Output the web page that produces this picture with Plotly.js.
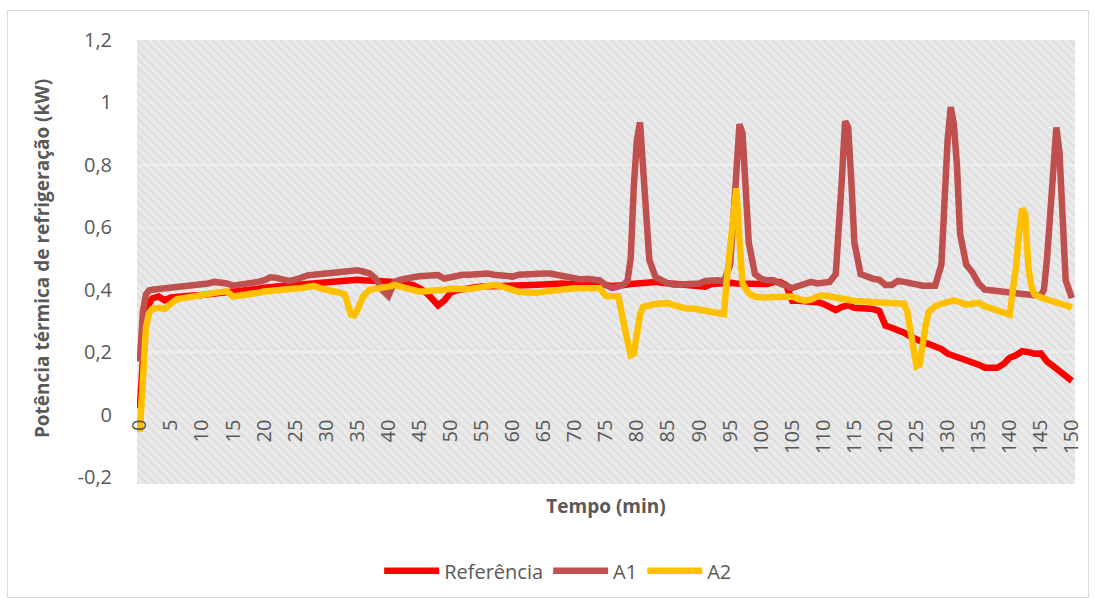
<!DOCTYPE html>
<html>
<head>
<meta charset="utf-8">
<script src="https://cdn.plot.ly/plotly-3.0.1.min.js"></script>
<style>
  body { margin: 0; background: #ffffff; }
  #wrap { position: relative; width: 1095px; height: 602px; overflow: hidden; }
  #hatch { position: absolute; left: 137px; top: 40px; width: 938px; height: 444px;
           background: repeating-linear-gradient(45deg, #e0e0e0 0px, #e0e0e0 2.5px, #eaeaea 2.5px, #eaeaea 6px); }
  #frame { position: absolute; left: 7px; top: 10px; width: 1082px; height: 588px;
           border: 1px solid #d9d9d9; box-sizing: border-box; }
  #chart { position: absolute; left: 0; top: 0; width: 1095px; height: 602px; }
</style>
</head>
<body>
<div id="wrap">
  <div id="frame"></div>
  <div id="hatch"></div>
  <div id="chart"></div>
</div>
<script>
// ---------- DATA ----------
const seriesNames = ['Referência', 'A1', 'A2'];

const xTickVals = [0,5,10,15,20,25,30,35,40,45,50,55,60,65,70,75,80,85,90,95,100,105,110,115,120,125,130,135,140,145,150];
const yTickVals = [-0.2, 0, 0.2, 0.4, 0.6, 0.8, 1, 1.2];
const yTickText = ['-0,2', '0', '0,2', '0,4', '0,6', '0,8', '1', '1,2'];

// Referência
const tRef = [0,0.5,1,1.5,
  2,3,4,5,6,7,8,9,10,
  11,12,13,14,15,16,17,18,19,20,
  21,22,23,24,25,26,27,28,29,30,
  31,32,33,34,35,36,37,38,39,40,
  41,42,43,44,45,46,47,48,49,50,
  51,52,53,54,55,56,57,58,59,60,
  61,62,63,64,65,66,67,68,69,70,
  71,72,73,74,75,76,77,78,79,80,
  81,82,83,84,85,86,87,88,89,90,
  91,92,93,94,95,96,97,98,99,100,
  101,102,103,104,105,106,107,108,109,110,
  111,112,113,114,115,116,117,118,119,120,
  121,122,123,124,125,126,127,128,129,130,
  131,132,133,134,135,136,137,138,139,140,
  141,142,143,144,145,146,147,148,149,150];
const ref = [0.02,0.2,0.33,0.355,
  0.372,0.378,0.366,0.375,0.378,0.378,0.38,0.382,0.383,
  0.385,0.388,0.39,0.392,0.39,0.392,0.397,0.4,0.403,0.406,
  0.41,0.41,0.412,0.414,0.415,0.417,0.418,0.42,0.422,0.425,
  0.425,0.428,0.43,0.432,0.432,0.43,0.43,0.43,0.428,0.43,
  0.425,0.422,0.42,0.415,0.405,0.392,0.372,0.35,0.365,0.39,
  0.398,0.402,0.408,0.408,0.41,0.41,0.41,0.41,0.412,0.413,
  0.412,0.415,0.415,0.416,0.418,0.42,0.42,0.42,0.418,0.42,
  0.42,0.42,0.42,0.42,0.415,0.412,0.412,0.415,0.418,0.42,
  0.42,0.425,0.425,0.422,0.42,0.418,0.418,0.418,0.415,0.41,
  0.41,0.418,0.42,0.42,0.422,0.42,0.42,0.422,0.42,0.418,
  0.418,0.425,0.425,0.415,0.365,0.365,0.365,0.36,0.36,0.355,
  0.345,0.335,0.345,0.35,0.342,0.342,0.338,0.338,0.332,0.285,
  0.278,0.272,0.262,0.25,0.238,0.232,0.226,0.218,0.21,0.195,
  0.188,0.184,0.178,0.172,0.16,0.15,0.15,0.15,0.162,0.182,
  0.19,0.203,0.2,0.195,0.196,0.17,0.155,0.138,0.122,0.108];

// A1
const tA1 = [0,0.5,1,1.5,
  2,3,4,5,6,7,8,9,10,
  11,12,13,14,15,16,17,18,19,20,
  21,22,23,24,25,26,27,28,29,30,
  31,32,33,34,35,36,37,38,39,40,
  41,42,43,44,45,46,47,48,49,50,
  51,52,53,54,55,56,57,58,59,60,
  61,62,63,64,65,66,67,68,69,70,
  71,72,73,74,75,76,77,78,
  78.5,79,79.5,80,80.5,81,81.5,82,
  83,84,85,86,87,88,89,90,91,92,93,94,95,
  95.5,96,96.5,97,97.5,98,
  99,100,101,102,103,104,105,106,107,108,109,110,111,112,
  112.5,113,113.5,114,114.5,115,
  116,117,118,119,120,121,122,123,124,125,126,127,128,129,
  129.5,130,130.5,131,131.5,132,
  133,134,135,136,137,138,139,140,141,142,143,144,145,
  145.5,146,146.5,147,147.5,148,148.5,
  149,150];
const a1 = [0.17,0.33,0.385,0.398,
  0.40,0.402,0.403,0.403,0.405,0.408,0.41,0.415,0.418,
  0.42,0.425,0.425,0.42,0.413,0.415,0.418,0.42,0.425,0.43,
  0.44,0.438,0.432,0.428,0.432,0.44,0.446,0.448,0.45,0.452,
  0.453,0.455,0.456,0.458,0.462,0.458,0.452,0.435,0.40,0.38,
  0.425,0.432,0.438,0.44,0.443,0.445,0.447,0.447,0.436,0.44,
  0.446,0.448,0.448,0.45,0.452,0.452,0.448,0.445,0.44,0.442,
  0.448,0.45,0.452,0.45,0.452,0.452,0.448,0.442,0.438,0.435,
  0.433,0.435,0.433,0.43,0.415,0.405,0.41,0.418,
  0.43,0.5,0.73,0.88,0.936,0.8,0.62,0.495,
  0.44,0.428,0.42,0.416,0.418,0.418,0.42,0.42,0.428,0.43,0.43,0.427,0.48,
  0.62,0.8,0.93,0.9,0.72,0.55,
  0.45,0.435,0.43,0.43,0.42,0.41,0.405,0.412,0.42,0.425,0.42,0.42,0.425,0.45,
  0.58,0.76,0.94,0.92,0.75,0.55,
  0.45,0.44,0.435,0.432,0.415,0.415,0.428,0.425,0.42,0.415,0.413,0.413,0.413,0.48,
  0.7,0.88,0.985,0.93,0.8,0.58,
  0.48,0.455,0.42,0.4,0.398,0.395,0.394,0.393,0.39,0.388,0.385,0.382,0.38,
  0.4,0.5,0.66,0.82,0.92,0.84,0.58,
  0.43,0.373];

// A2
const tA2 = [0,0.5,1,1.5,
  2,3,4,5,6,7,8,9,10,
  11,12,13,14,15,16,17,18,19,20,
  21,22,23,24,25,26,27,28,29,30,
  31,32,33,34,
  34.5,
  35,36,37,38,39,40,
  41,42,43,44,45,46,47,48,49,50,
  51,52,53,54,55,56,57,58,59,60,
  61,62,63,64,65,66,67,68,69,70,
  71,72,73,74,75,76,77,78,
  78.5,79,79.5,80,80.5,
  81,82,83,84,85,86,87,88,89,90,91,92,93,94,
  94.5,95,95.5,96,96.5,
  97,98,99,100,
  101,102,103,104,105,106,107,108,109,110,
  111,112,113,114,115,116,117,118,119,120,
  121,122,123,
  123.5,124,124.5,125,125.5,126,126.5,
  127,128,129,130,131,132,133,134,135,136,137,138,139,140,
  140.5,141,141.5,142,142.5,143,143.5,
  144,145,146,147,148,149,150];
const a2 = [-0.055,0.15,0.28,0.325,
  0.338,0.342,0.338,0.355,0.37,0.373,0.375,0.38,0.384,
  0.386,0.39,0.392,0.395,0.378,0.38,0.385,0.388,0.39,0.394,
  0.397,0.4,0.4,0.402,0.404,0.405,0.408,0.412,0.405,0.398,
  0.395,0.392,0.385,0.32,
  0.318,
  0.335,0.38,0.4,0.402,0.405,0.41,
  0.415,0.41,0.405,0.398,0.394,0.395,0.396,0.394,0.4,0.403,
  0.405,0.402,0.402,0.406,0.41,0.415,0.415,0.412,0.405,0.396,
  0.393,0.392,0.39,0.39,0.394,0.397,0.4,0.402,0.404,0.405,
  0.405,0.405,0.405,0.405,0.38,0.378,0.379,0.28,
  0.22,0.19,0.195,0.26,0.32,
  0.345,0.352,0.354,0.356,0.357,0.35,0.343,0.34,0.34,0.337,0.335,0.333,0.328,0.322,
  0.44,0.55,0.65,0.725,0.56,
  0.42,0.388,0.378,0.375,
  0.376,0.378,0.378,0.378,0.378,0.37,0.365,0.368,0.378,0.382,
  0.378,0.372,0.368,0.365,0.364,0.363,0.362,0.362,0.36,0.36,
  0.36,0.36,0.355,
  0.33,0.26,0.19,0.155,0.16,0.23,0.29,
  0.33,0.347,0.355,0.362,0.366,0.36,0.352,0.355,0.358,0.347,0.34,0.335,0.328,0.32,
  0.4,0.47,0.58,0.66,0.64,0.47,0.41,
  0.385,0.375,0.37,0.365,0.36,0.35,0.343];

[[tRef, ref, 'ref'], [tA1, a1, 'a1'], [tA2, a2, 'a2']].forEach(function (p) {
  if (p[0].length !== p[1].length) throw new Error('length mismatch ' + p[2] + ': ' + p[0].length + ' vs ' + p[1].length);
});

// ---------- CHART ----------
const colors = ['#FF0000', '#C0504D', '#FFC000'];
const xs = [tRef, tA1, tA2];
const ys = [ref, a1, a2];

const traces = seriesNames.map(function (name, i) {
  return {
    type: 'scatter', mode: 'lines', name: name,
    x: xs[i], y: ys[i],
    line: { color: colors[i], width: 6.5 },
    hoverinfo: 'skip'
  };
});

const layout = {
  width: 1095, height: 602,
  margin: { l: 137, r: 20, t: 40, b: 118 },
  paper_bgcolor: 'rgba(0,0,0,0)',
  plot_bgcolor: 'rgba(0,0,0,0)',
  font: { family: 'Open Sans, sans-serif', color: '#595959', size: 20 },
  showlegend: true,
  xaxis: {
    range: [-0.45, 150.5],
    tickmode: 'array', tickvals: xTickVals,
    tickangle: -90,
    anchor: 'free', position: 0.2 / 1.4,
    showgrid: false, zeroline: false, showline: false, ticks: '',
    tickfont: { size: 20, color: '#595959' },
    title: { text: 'Tempo (min)', font: { size: 19, weight: 'bold', color: '#595959' }, standoff: 46 },
    automargin: false
  },
  yaxis: {
    range: [-0.2, 1.2],
    tickmode: 'array', tickvals: yTickVals, ticktext: yTickText,
    showgrid: true, gridcolor: '#ededed', gridwidth: 1.5,
    zeroline: false, showline: false,
    ticks: 'outside', ticklen: 20, tickcolor: 'rgba(0,0,0,0)',
    tickfont: { size: 20, color: '#595959' },
    title: { text: 'Potência térmica de refrigeração (kW)', font: { size: 19, weight: 'bold', color: '#595959' }, standoff: 22 },
    automargin: false
  },
  legend: {
    orientation: 'h', x: 0.449, xanchor: 'center', y: -0.17, yanchor: 'top',
    font: { size: 20, color: '#595959' },
    itemwidth: 55,
    bgcolor: 'rgba(0,0,0,0)', traceorder: 'normal'
  }
};

Plotly.newPlot('chart', traces, layout, { displayModeBar: false, staticPlot: true });
</script>
</body>
</html>
